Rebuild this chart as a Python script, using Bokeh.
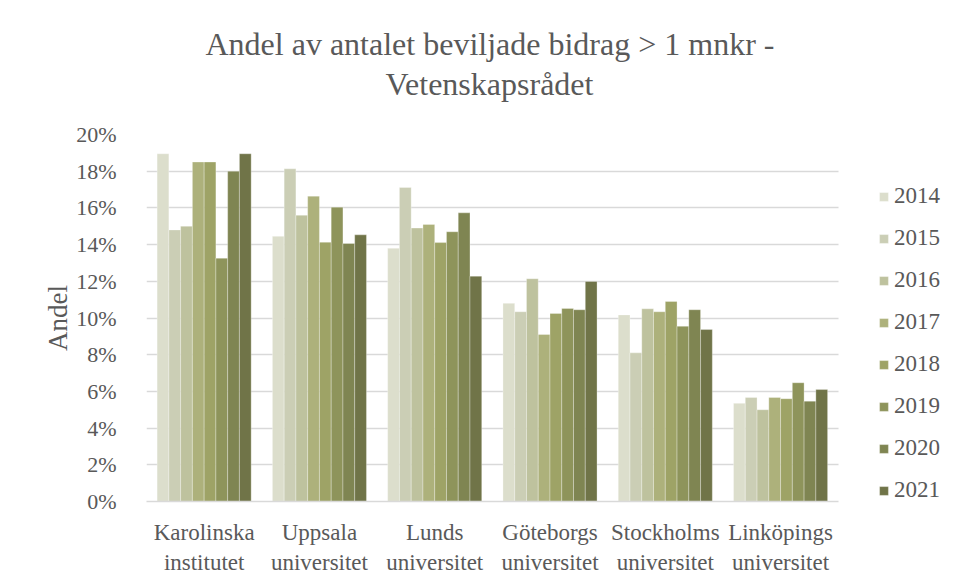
from bokeh.plotting import figure
from bokeh.models import FactorRange, FixedTicker, PrintfTickFormatter, Legend, LegendItem, Title, ColumnDataSource
from bokeh.transform import dodge
from bokeh.embed import file_html
from bokeh.resources import INLINE

universities = ["Karolinska\ninstitutet", "Uppsala\nuniversitet", "Lunds\nuniversitet",
                "Göteborgs\nuniversitet", "Stockholms\nuniversitet", "Linköpings\nuniversitet"]
years = ["2014", "2015", "2016", "2017", "2018", "2019", "2020", "2021"]

y2014 = [18.95, 14.45, 13.80, 10.80, 10.17, 5.35]
y2015 = [14.80, 18.13, 17.11, 10.34, 8.10, 5.67]
y2016 = [15.00, 15.60, 14.90, 12.14, 10.50, 5.00]
y2017 = [18.50, 16.64, 15.10, 9.10, 10.34, 5.67]
y2018 = [18.50, 14.13, 14.11, 10.25, 10.90, 5.60]
y2019 = [13.26, 16.04, 14.70, 10.52, 9.55, 6.47]
y2020 = [18.00, 14.06, 15.73, 10.45, 10.45, 5.47]
y2021 = [18.95, 14.53, 12.28, 11.99, 9.37, 6.10]

title_line1 = "Andel av antalet beviljade bidrag > 1 mnkr -"
title_line2 = "Vetenskapsrådet"

colors = ["#DCDECC", "#CBCEB5", "#BEC29E", "#ADB17B", "#9EA366", "#8E945B", "#7F8552", "#707448"]
series = [y2014, y2015, y2016, y2017, y2018, y2019, y2020, y2021]

GRAY = "#595959"
FONT = "Liberation Serif"

data = {"uni": universities}
for yr, vals in zip(years, series):
    data["y" + yr] = vals
source = ColumnDataSource(data)

# an extra empty factor on the right leaves room inside the frame for the legend
x_range = FactorRange(factors=universities + [""], range_padding=0)

p = figure(x_range=x_range, y_range=(0, 20),
           width=957, height=581, output_backend="svg", toolbar_location=None, title=None,
           min_border_left=146, min_border_right=4, min_border_top=134, min_border_bottom=80)

p.add_layout(Title(text=title_line2, align="left", offset=239, text_font=FONT, text_font_size="32px",
                   text_color=GRAY, text_font_style="normal", standoff=66), "above")
p.add_layout(Title(text=title_line1, align="left", offset=59, text_font=FONT, text_font_size="32px",
                   text_color=GRAY, text_font_style="normal", standoff=-62), "above")

bw = 0.102
items = []
for i, (yr, c) in enumerate(zip(years, colors)):
    off = (i - 3.5) * bw
    r = p.vbar(x=dodge("uni", off, range=p.x_range), top="y" + yr, width=bw, source=source,
               fill_color=c, line_color="white", line_alpha=0.5, line_width=0.6)
    items.append(LegendItem(label=yr, renderers=[r]))

legend = Legend(items=items, location=(732, -2), padding=0, margin=0, spacing=16,
                glyph_width=11, glyph_height=11, label_height=22, label_standoff=5,
                label_text_font=FONT, label_text_font_size="23px", label_text_color=GRAY,
                border_line_color=None, background_fill_alpha=0)
p.add_layout(legend, "center")

p.yaxis.ticker = FixedTicker(ticks=list(range(0, 21, 2)))
p.yaxis.formatter = PrintfTickFormatter(format="%d%%")
p.yaxis.axis_line_color = None
p.yaxis.major_tick_line_color = None
p.yaxis.minor_tick_line_color = None
p.yaxis.major_label_standoff = 24
p.yaxis.major_label_text_font = FONT
p.yaxis.major_label_text_font_size = "22px"
p.yaxis.major_label_text_color = GRAY
p.yaxis.axis_label = "Andel"
p.yaxis.axis_label_text_font = FONT
p.yaxis.axis_label_text_font_size = "27px"
p.yaxis.axis_label_text_font_style = "normal"
p.yaxis.axis_label_text_color = GRAY
p.yaxis.axis_label_standoff = 0

p.xaxis.bounds = (0, len(universities))
p.xaxis.axis_line_color = "#D9D9D9"
p.xaxis.axis_line_width = 1.5
p.xaxis.major_tick_line_color = None
p.xaxis.minor_tick_line_color = None
p.xaxis.major_label_standoff = 12
p.xaxis.major_label_text_font = FONT
p.xaxis.major_label_text_font_size = "23px"
p.xaxis.major_label_text_color = GRAY
p.xaxis.major_label_orientation = "horizontal"

p.xgrid.grid_line_color = None
p.ygrid.grid_line_color = "#D9D9D9"
p.ygrid.grid_line_width = 1.5
p.ygrid.cross_bounds = (0, len(universities))
p.outline_line_color = None

open("out.html", "w").write(file_html(p, INLINE))
